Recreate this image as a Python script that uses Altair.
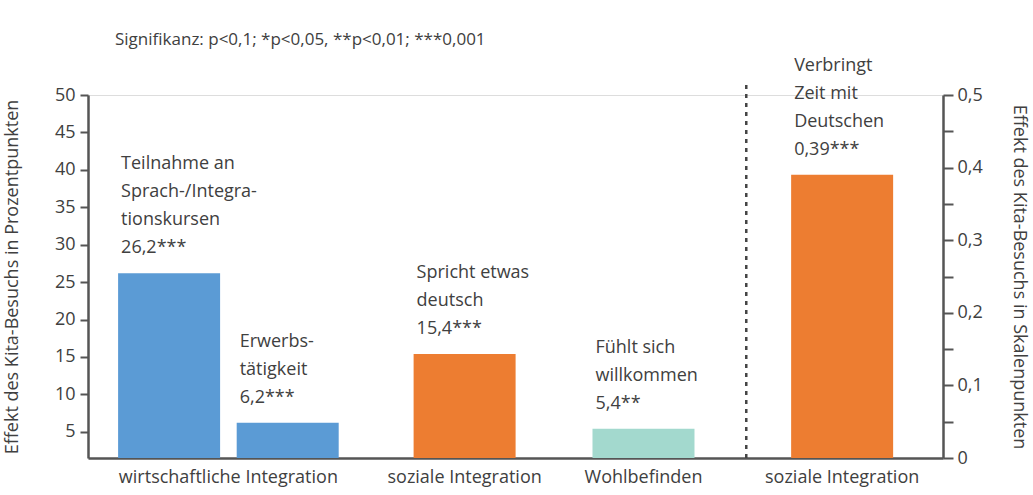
import altair as alt
import pandas as pd

# ---- data ----
categories = ["wirtschaftliche Integration", "wirtschaftliche Integration",
              "soziale Integration", "Wohlbefinden", "soziale Integration"]
items = ["Teilnahme an\nSprach-/Integra-\ntionskursen", "Erwerbs-\ntätigkeit",
         "Spricht etwas\ndeutsch", "Fühlt sich\nwillkommen",
         "Verbringt\nZeit mit\nDeutschen"]
values = [26.2, 6.2, 15.4, 5.4, 0.39]
stars = ["***", "***", "***", "**", "***"]
decimals = [1, 1, 1, 1, 2]
measure = ["Prozent", "Prozent", "Prozent", "Prozent", "Skala"]
colors = ["#5B9BD5", "#5B9BD5", "#ED7D31", "#A3D9CE", "#ED7D31"]
left_ticks = [5, 10, 15, 20, 25, 30, 35, 40, 45, 50]
right_ticks = [0, 0.05, 0.1, 0.15, 0.2, 0.25, 0.3, 0.35, 0.4, 0.45, 0.5]
note = "Signifikanz: p<0,1; *p<0,05, **p<0,01; ***0,001"
left_title = "Effekt des Kita-Besuchs in Prozentpunkten"
right_title = "Effekt des Kita-Besuchs in Skalenpunkten"

# ---- layout (slot positions along the horizontal axis) ----
slots = [0.77, 1.97, 3.76, 5.57, 7.58]
separator_slot = 6.61
x_extent = [0, 8.55]

W, H = 855, 363
FONT = "Open Sans"
TXT = "#404040"
AX = "#555555"
LH = 28

df = pd.DataFrame({
    "category": categories, "item": items, "value": values,
    "stars": stars, "dec": decimals, "measure": measure,
    "color": colors, "slot": slots,
})
df["label"] = [
    f"{it}\n" + f"{v:.{d}f}".replace(".", ",") + s
    for it, v, d, s in zip(items, values, decimals, stars)
]
df["nlines"] = df["label"].str.count("\n") + 1
groups = df.groupby(["category", "measure"], as_index=False, sort=False)["slot"].mean()

xscale = alt.Scale(domain=x_extent, nice=False, zero=False)
xaxis = alt.Axis(ticks=False, labels=False, grid=False, title=None,
                 domainColor=AX, domainWidth=2.5)
x_enc = alt.X("slot:Q", scale=xscale, axis=xaxis)

left_df = df[df.measure == "Prozent"]
right_df = df[df.measure == "Skala"]

left_y = alt.Y("value:Q",
               scale=alt.Scale(domain=[1.5, 50], clamp=True, nice=False, zero=False),
               axis=alt.Axis(values=left_ticks, grid=False, title=left_title,
                             domainColor=AX, domainWidth=2.5, tickColor=AX,
                             tickWidth=2, tickSize=8, labelPadding=5,
                             labelFontSize=18, labelColor=TXT, labelFont=FONT,
                             titleFontSize=18, titleFont=FONT, titleColor=TXT,
                             titleFontWeight="normal", titlePadding=33))

right_y = alt.Y("value:Q",
                scale=alt.Scale(domain=[0, 0.5], nice=False),
                axis=alt.Axis(orient="right", values=right_ticks, grid=False,
                              title=right_title,
                              labelExpr="abs(round(datum.value*20)) % 2 == 0 ? (datum.value == 0 ? '0' : replace(format(datum.value, '.1f'), '.', ',')) : ''",
                              domainColor=AX, domainWidth=2.5, tickColor=AX,
                              tickWidth=2, tickSize=10, labelPadding=4,
                              labelFontSize=18, labelColor=TXT, labelFont=FONT,
                              titleFontSize=18, titleFont=FONT, titleColor=TXT,
                              titleFontWeight="normal", titlePadding=27))

def bar_layer(data, y):
    layers = [alt.Chart(data).mark_bar(width=102).encode(
        x=x_enc, y=y, color=alt.Color("color:N", scale=None))]
    for n in sorted(data["nlines"].unique()):
        sub = data[data["nlines"] == n]
        layers.append(alt.Chart(sub).mark_text(
            align="left", baseline="alphabetic", dx=-48,
            dy=-20 - (int(n) - 1) * LH, lineBreak="\n",
            lineHeight=LH, fontSize=18, font=FONT, color=TXT
        ).encode(x=x_enc, y=y, text="label:N"))
    return alt.layer(*layers)

left = bar_layer(left_df, left_y)
right = bar_layer(right_df, right_y)

sep = alt.Chart(pd.DataFrame({"slot": [separator_slot]})).mark_rule(
    strokeDash=[4, 5], strokeWidth=2.5, color="#444444"
).encode(x=x_enc, y=alt.value(-10), y2=alt.value(H))

cats = alt.Chart(groups).mark_text(
    baseline="middle", fontSize=18, font=FONT, color=TXT
).encode(x=x_enc, y=alt.value(H + 20), text="category:N")

note_layer = alt.Chart(pd.DataFrame({"t": [note]})).mark_text(
    align="left", baseline="middle", fontSize=17, font=FONT, color=TXT
).encode(x=alt.value(27), y=alt.value(-55), text="t:N")

chart = alt.layer(left, sep, cats, note_layer, right).resolve_scale(
    y="independent"
).properties(
    width=W, height=H, autosize="none",
    padding={"left": 88, "top": 95, "right": 90, "bottom": 37},
).configure_view(stroke=None).configure(background="white")

chart.save("out.html", embed_options={"renderer": "svg", "actions": False})
